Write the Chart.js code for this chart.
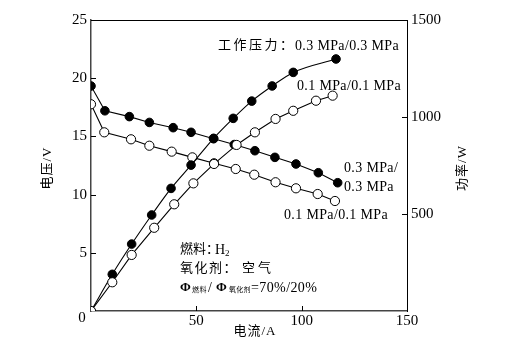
<!DOCTYPE html>
<html><head><meta charset="utf-8">
<script src="https://cdn.jsdelivr.net/npm/chart.js@4/dist/chart.umd.min.js"></script>
<style>html,body{margin:0;padding:0;background:#fff;}canvas{display:block;}</style>
</head><body>
<canvas id="c" width="512" height="346"></canvas>
<script>
// Voltage curves (left axis, V)
const currentV_hp = [0, 6.6, 18.2, 27.7, 39, 47.5, 58.2, 68, 77.8, 87.3, 97.3, 107.9, 117.1];
const voltage_hp  = [19.33, 17.2, 16.7, 16.2, 15.75, 15.35, 14.8, 14.3, 13.77, 13.2, 12.63, 11.88, 11.02];
const currentV_lp = [0, 6.3, 19, 27.7, 38.3, 48.1, 58.4, 68.7, 77.5, 87.6, 97.3, 107.6, 115.8];
const voltage_lp  = [17.76, 15.35, 14.75, 14.2, 13.69, 13.2, 12.69, 12.2, 11.71, 11.06, 10.54, 10.05, 9.45];
// Power curves (right axis, W)
const currentP_hp = [0, 10.1, 19.3, 28.8, 38, 47.5, 58.2, 67.5, 76.3, 86, 96, 116.3];
const power_hp    = [0, 189, 345, 495, 632, 752, 890, 993, 1082, 1160, 1230, 1299];
const currentP_lp = [0, 10.1, 19.3, 30, 39.5, 48.6, 58.4, 69.1, 77.8, 87.6, 96, 106.8, 114.7];
const power_lp    = [0, 148, 289, 429, 550, 658, 758, 856, 921, 990, 1032, 1084, 1110];
// Axis ticks
const xTicks = [0, 50, 100, 150];
const yTicks = [0, 5, 10, 15, 20, 25];
const y2Ticks = [500, 1000, 1500];

const pts = (xs, ys) => xs.map((x, i) => ({x, y: ys[i]}));
const SERIF = "'Liberation Serif', 'Noto Sans CJK SC', serif";
const CJK = "'Liberation Serif', 'Noto Sans CJK SC', sans-serif";

function ds(data, filled, axis, order, mono) {
  return {
    data, yAxisID: axis, showLine: true, order,
    borderColor: '#000', borderWidth: 1.1,
    pointRadius: filled ? 4.3 : 4.6,
    pointBackgroundColor: filled ? '#000' : '#fff',
    pointBorderColor: '#000', pointBorderWidth: 1,
    cubicInterpolationMode: mono ? 'monotone' : 'default',
    tension: 0
  };
}

function txt(ctx, t, x, y, font, ls) {
  ctx.font = font;
  ctx.letterSpacing = (ls || 0) + 'px';
  ctx.fillText(t, x, y);
  const w = ctx.measureText(t).width;
  ctx.letterSpacing = '0px';
  return w;
}

const annot = {
  id: 'annot',
  afterDraw(chart) {
    const ctx = chart.ctx;
    const a = chart.chartArea;
    const xs = chart.scales.x, ys = chart.scales.y, y2 = chart.scales.y2;
    ctx.save();
    ctx.strokeStyle = '#000';
    ctx.lineWidth = 1;
    // top border
    ctx.beginPath(); ctx.moveTo(a.left, a.top + 0.5); ctx.lineTo(a.right, a.top + 0.5); ctx.stroke();
    // inward ticks
    ctx.beginPath();
    yTicks.forEach(v => { if (v > 0 && v < 25) { const p = Math.round(ys.getPixelForValue(v)) + 0.5; ctx.moveTo(a.left, p); ctx.lineTo(a.left + 5, p); } });
    xTicks.forEach(v => { if (v > 0 && v < 150) { const p = Math.round(xs.getPixelForValue(v)) + 0.5; ctx.moveTo(p, a.bottom); ctx.lineTo(p, a.bottom - 5); } });
    y2Ticks.forEach(v => { if (v < 1500) { const p = Math.round(y2.getPixelForValue(v)) + 0.5; ctx.moveTo(a.right, p); ctx.lineTo(a.right - 5, p); } });
    ctx.stroke();

    ctx.fillStyle = '#000';
    ctx.textBaseline = 'middle';
    // origin label
    ctx.textAlign = 'center';
    txt(ctx, '0', a.left - 9, a.bottom + 7, '15px ' + SERIF);

    // axis titles
    txt(ctx, '电流/A', 255, 332, '13px ' + CJK, 1);
    ctx.save(); ctx.translate(48, 168); ctx.rotate(-Math.PI / 2); txt(ctx, '电压/V', 0, 0, '13px ' + CJK, 1); ctx.restore();
    ctx.save(); ctx.translate(463, 168); ctx.rotate(-Math.PI / 2); txt(ctx, '功率/W', 0, 0, '13px ' + CJK, 1); ctx.restore();

    // series labels
    ctx.textAlign = 'left';
    const LAT = '14px ' + SERIF;
    txt(ctx, '工作压力：', 218, 46, '13px ' + CJK, 2.5);
    txt(ctx, '0.3 MPa/0.3 MPa', 295, 46, LAT, 0.35);
    txt(ctx, '0.1 MPa/0.1 MPa', 297, 86, LAT, 0.35);
    txt(ctx, '0.3 MPa/', 344, 168, LAT, 0.35);
    txt(ctx, '0.3 MPa', 344, 187, LAT, 0.35);
    txt(ctx, '0.1 MPa/0.1 MPa', 284, 215, LAT, 0.35);

    // conditions
    txt(ctx, '燃料：', 180, 250, '13px ' + CJK, 0);
    txt(ctx, 'H', 215, 250, '14px ' + SERIF);
    txt(ctx, '2', 225, 254, '9px ' + SERIF);
    txt(ctx, '氧化剂：', 180, 269, '13px ' + CJK, 1.5);
    txt(ctx, '空气', 242, 269, '13px ' + CJK, 3);
    txt(ctx, 'Φ', 180, 288, 'bold 13px ' + SERIF);
    txt(ctx, '燃料', 192, 290, '7px ' + CJK, 0.5);
    txt(ctx, '/', 208, 288, '14px ' + SERIF);
    txt(ctx, 'Φ', 216, 288, 'bold 13px ' + SERIF);
    txt(ctx, '氧化剂', 229, 290, '7px ' + CJK, 0.3);
    txt(ctx, '=70%/20%', 251, 288, '14px ' + SERIF, 0.4);
    ctx.restore();
  }
};

new Chart(document.getElementById('c'), {
  type: 'scatter',
  data: {
    datasets: [
      ds(pts(currentV_hp, voltage_hp), true, 'y', 3, false),
      ds(pts(currentV_lp, voltage_lp), false, 'y', 2, false),
      ds(pts(currentP_hp, power_hp), true, 'y2', 1, true),
      ds(pts(currentP_lp, power_lp), false, 'y2', 0, false)
    ]
  },
  options: {
    responsive: false, animation: false,
    layout: { padding: { top: 20, left: 0, right: 0, bottom: 0 } },
    plugins: { legend: { display: false }, tooltip: { enabled: false } },
    scales: {
      x: {
        type: 'linear', min: 0, max: 150,
        afterBuildTicks: s => { s.ticks = xTicks.map(v => ({value: v})); },
        afterFit: s => { s.height = 35; },
        grid: { display: true, drawOnChartArea: false, drawTicks: false },
        border: { display: true, color: '#444', width: 1.5 },
        ticks: { color: '#000', padding: 1, font: { family: SERIF, size: 15 }, callback: v => v === 0 ? '' : v, maxRotation: 0 }
      },
      y: {
        type: 'linear', position: 'left', min: 0, max: 25,
        afterBuildTicks: s => { s.ticks = yTicks.map(v => ({value: v})); },
        afterFit: s => { s.width = 91; },
        grid: { display: true, drawOnChartArea: false, drawTicks: false },
        border: { display: true, color: '#444', width: 1.5 },
        ticks: { color: '#000', padding: 4, font: { family: SERIF, size: 15 }, callback: v => v === 0 ? '' : v }
      },
      y2: {
        type: 'linear', position: 'right', min: 0, max: 1500,
        afterBuildTicks: s => { s.ticks = y2Ticks.map(v => ({value: v})); },
        afterFit: s => { s.width = 105; },
        grid: { display: true, drawOnChartArea: false, drawTicks: false },
        border: { display: true, color: '#000', width: 1 },
        ticks: { color: '#000', padding: 4, font: { family: SERIF, size: 15 }, callback: v => String(v) }
      }
    }
  },
  plugins: [annot]
});
</script>
</body></html>
